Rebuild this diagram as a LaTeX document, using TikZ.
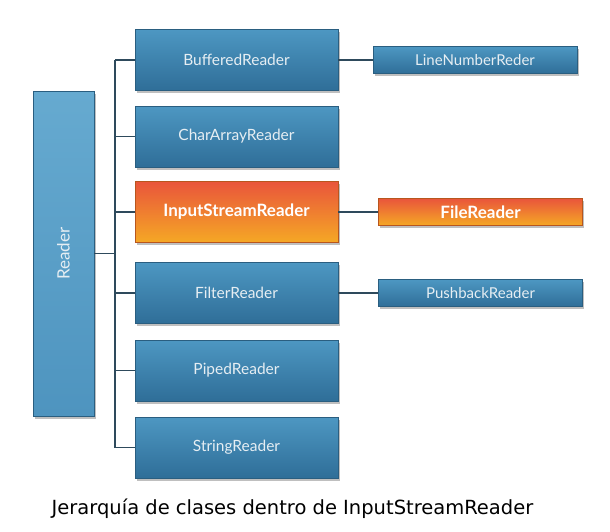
\documentclass[tikz,border=0pt]{standalone}
\usepackage{fontspec}
\setmainfont{Lato}
\newfontfamily\capfont{DejaVu Sans}
\usetikzlibrary{shadows}
\definecolor{btop}{HTML}{4D97C2}
\definecolor{bbot}{HTML}{2F6E98}
\definecolor{bedge}{HTML}{2A5E80}
\definecolor{otop}{HTML}{E9553B}
\definecolor{obot}{HTML}{F5A825}
\definecolor{oedge}{HTML}{B8561E}
\definecolor{rtop}{HTML}{66AAD0}
\definecolor{rbot}{HTML}{4E94BF}
\definecolor{wire}{HTML}{2E4A5C}
\definecolor{txt}{HTML}{E6EEF3}
\tikzset{
  x=1pt, y=-1pt,
  box/.style={draw=bedge, line width=0.6pt, top color=btop, bottom color=bbot,
    text=txt, font=\fontsize{15.5}{18}\selectfont, inner sep=0pt,
    drop shadow={shadow xshift=1.5pt, shadow yshift=-2.5pt, opacity=0.5}},
  midbox/.style={box, minimum width=203pt, minimum height=61pt},
  sidebox/.style={box, minimum width=204pt, minimum height=27pt, font=\fontsize{15}{17}\selectfont},
  hot/.style={draw=oedge, top color=otop, bottom color=obot, text=white, font=\fontsize{17}{19}\selectfont\bfseries},
  rootbox/.style={box, top color=rtop, bottom color=rbot, minimum width=61pt, minimum height=325pt, font=\fontsize{17}{19}\selectfont},
  wireline/.style={draw=wire, line width=1.3pt}
}
\begin{document}
\begin{tikzpicture}
\useasboundingbox[fill=white] (0,0) rectangle (610,531);
\node[rootbox] (reader) at (63.5,253.5) {\rotatebox{90}{Reader}};
\coordinate (trunktop) at (115,60);
\coordinate (trunkbot) at (115,447.5);
\node[midbox] (buffered) at (236.5,60) {BufferedReader};
\node[midbox] (chararray) at (236.5,136.5) {CharArrayReader};
\node[midbox,hot] (isr) at (236.5,212) {InputStreamReader};
\node[midbox] (filter) at (236.5,293) {FilterReader};
\node[midbox] (piped) at (236.5,370.5) {PipedReader};
\node[midbox] (string) at (236.5,447.5) {StringReader};
\node[sidebox] (linenum) at (475,60) {LineNumberReder};
\node[sidebox,hot] (file) at (480.5,212) {FileReader};
\node[sidebox] (pushback) at (480.5,293) {PushbackReader};
\draw[wireline] (trunktop) -- (trunkbot);
\draw[wireline] (reader.east) -- (reader.east -| trunktop);
\foreach \n in {buffered,chararray,isr,filter,piped,string}
  \draw[wireline] (\n.west -| trunktop) -- (\n.west);
\draw[wireline] (buffered.east) -- (linenum.west);
\draw[wireline] (isr.east) -- (file.west);
\draw[wireline] (filter.east) -- (pushback.west);
\node[font=\capfont\fontsize{19.5}{22}\selectfont, text=black] (caption) at (292.5,509) {Jerarquía de clases dentro de InputStreamReader};
\end{tikzpicture}
\end{document}
